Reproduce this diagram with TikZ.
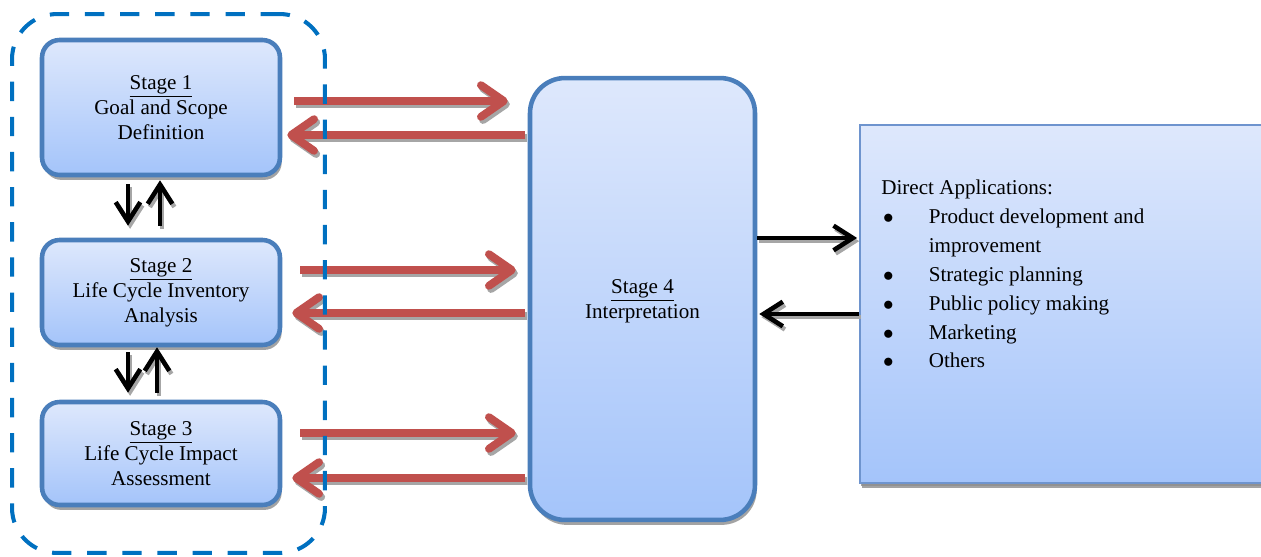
\documentclass[tikz,border=0pt]{standalone}
\usepackage{fontspec}
\setmainfont{Liberation Serif}
\usetikzlibrary{arrows.meta,shadows,calc}

\definecolor{stageline}{RGB}{74,126,187}
\definecolor{appsline}{RGB}{110,148,206}
\definecolor{stagetop}{RGB}{222,232,252}
\definecolor{stagebot}{RGB}{164,196,250}
\definecolor{frameblue}{RGB}{0,112,192}
\definecolor{arrowred}{RGB}{192,80,77}

\begin{document}
\begin{tikzpicture}[x=0.02cm, y=-0.02cm,
  stagebox/.style={draw=stageline, line width=2.6pt, rounded corners=10pt,
    top color=stagetop, bottom color=stagebot, align=center,
    font=\fontsize{12}{14.2}\selectfont,
    drop shadow={shadow xshift=1pt, shadow yshift=-2.8pt, fill=black!45, opacity=0.8}},
  redline/.style={line width=4.5pt, -{Straight Barb[length=13pt, width=18pt, round]}},
  blackline/.style={line width=2.6pt, -{Straight Barb[length=11pt, width=14pt]}},
  redarrow/.style={redline, draw=arrowred,
    preaction={redline, draw=black!35, transform canvas={shift={(1.2pt,-1.8pt)}}}},
  blackarrow/.style={blackline, draw=black,
    preaction={blackline, draw=black!35, transform canvas={shift={(1.2pt,-1.8pt)}}}}]

\useasboundingbox (0,0) rectangle (1261,557);

\node[stagebox, minimum width=4.76cm, minimum height=2.7cm] (s1) at (161,107.5)
  {\underline{Stage 1}\\Goal and Scope\\Definition};
\node[stagebox, minimum width=4.76cm, minimum height=2.1cm] (s2) at (161,292.5)
  {\underline{Stage 2}\\Life Cycle Inventory\\Analysis};
\node[stagebox, minimum width=4.76cm, minimum height=2.06cm] (s3) at (161,453.5)
  {\underline{Stage 3}\\Life Cycle Impact\\Assessment};
\node[stagebox, rounded corners=0.7cm, minimum width=4.5cm, minimum height=8.84cm, text depth=-2pt] (s4) at (642.5,299)
  {\underline{Stage 4}\\Interpretation};
\node[stagebox, draw=appsline, line width=1.1pt, rounded corners=0pt,
  drop shadow={shadow xshift=0.8pt, shadow yshift=-1.8pt, fill=black!45, opacity=0.8},
  minimum width=8.2cm, minimum height=7.16cm] (apps) at (1065,304) {};
\node[anchor=base west, inner sep=0pt, font=\fontsize{12}{16.4}\selectfont] (appstext) at (881,195)
  {\begin{tabular}[t]{@{}p{27pt}@{}l@{}}
    \multicolumn{2}{@{}l@{}}{Direct Applications:}\\
    \hspace{1pt}$\bullet$ & Product development and\\
     & improvement\\
    \hspace{1pt}$\bullet$ & Strategic planning\\
    \hspace{1pt}$\bullet$ & Public policy making\\
    \hspace{1pt}$\bullet$ & Marketing\\
    \hspace{1pt}$\bullet$ & Others
  \end{tabular}};

\draw[redarrow] ($(s1.east)+(12,-6.5)$) -- ($(s4.west |- s1.east)+(-20,-6.5)$);
\draw[redarrow] ($(s4.west |- s1.east)+(-2.5,27.5)$) -- ($(s1.east)+(5,27.5)$);
\draw[redarrow] ($(s2.east)+(18,-22.5)$) -- ($(s4.west |- s2.east)+(-12,-22.5)$);
\draw[redarrow] ($(s4.west |- s2.east)+(-2.5,20.5)$) -- ($(s2.east)+(10,20.5)$);
\draw[redarrow] ($(s3.east)+(18,-20.5)$) -- ($(s4.west |- s3.east)+(-12,-20.5)$);
\draw[redarrow] ($(s4.west |- s3.east)+(-2.5,24.5)$) -- ($(s3.east)+(10,24.5)$);

\draw[blackarrow] ($(s1.south)+(-33,7)$) -- ($(s2.north)+(-33,-12)$);
\draw[blackarrow] ($(s2.north)+(-1,-12)$) -- ($(s1.south)+(-1,3)$);
\draw[blackarrow] ($(s2.south)+(-33,5)$) -- ($(s3.north)+(-33,-7)$);
\draw[blackarrow] ($(s3.north)+(-4,-7)$) -- ($(s2.south)+(-4,0)$);

\draw[blackarrow] ($(s4.east)+(0,-61)$) -- ($(apps.west |- s4.east)+(-2,-61)$);
\draw[blackarrow] ($(apps.west)+(0,10)$) -- ($(s4.east |- apps.west)+(2,10)$);

\node[draw=frameblue, line width=2.3pt, dash pattern=on 11pt off 9pt, rounded corners=0.9cm,
  minimum width=6.26cm, minimum height=10.78cm] (frame) at (168.5,283.5) {};

\end{tikzpicture}
\end{document}
